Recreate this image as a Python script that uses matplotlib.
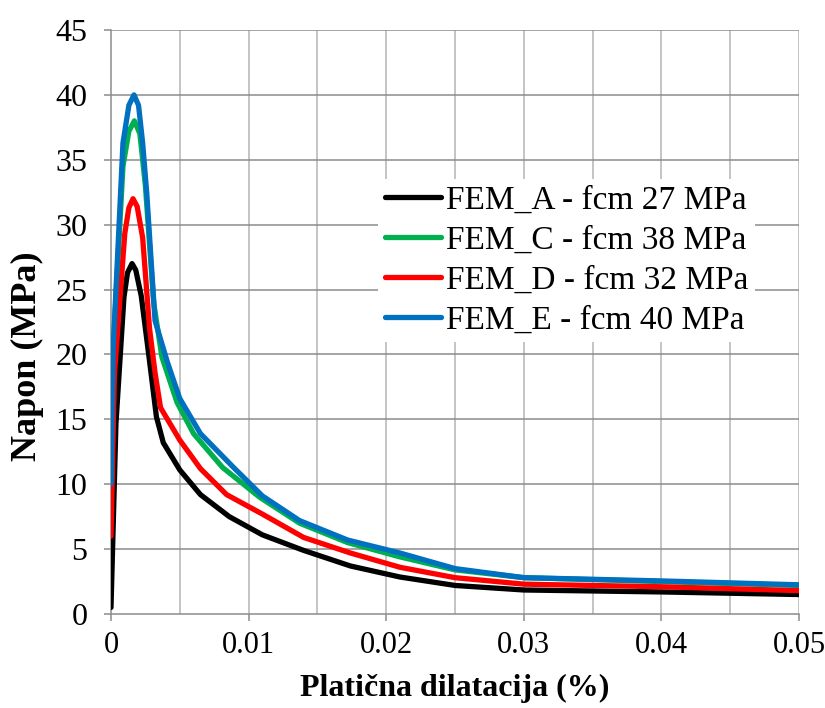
import matplotlib.pyplot as plt
import numpy as np

plt.rcParams['font.family'] = ['Liberation Serif', 'DejaVu Serif']

# plastic strain (%) and stress (MPa) for each model
x_a = [0, 0.00036, 0.00094, 0.0012, 0.00153, 0.0018, 0.0022, 0.0028, 0.0033, 0.0038, 0.0050, 0.0065,
       0.0086, 0.011, 0.014, 0.0174, 0.021, 0.025, 0.030, 0.040, 0.050]
y_a = [0.5, 14.7, 24.4, 26.3, 27.0, 26.5, 24.5, 19.5, 15.2, 13.2, 11.1, 9.2,
       7.5, 6.1, 4.9, 3.7, 2.85, 2.2, 1.85, 1.7, 1.5]

x_c = [0, 0.00015, 0.00087, 0.0013, 0.0017, 0.0021, 0.0025, 0.0031, 0.0037, 0.0048, 0.0060, 0.0081,
       0.0108, 0.0137, 0.0172, 0.021, 0.025, 0.030, 0.040, 0.050]
y_c = [9.5, 20.3, 34.5, 37.2, 38.0, 37.0, 33.0, 24.0, 19.8, 16.3, 13.9, 11.3,
       9.0, 7.0, 5.5, 4.4, 3.4, 2.8, 2.5, 2.2]

x_d = [0, 0.00025, 0.0010, 0.0013, 0.0016, 0.0019, 0.0023, 0.0028, 0.0032, 0.0036, 0.0050, 0.0065,
       0.0084, 0.011, 0.014, 0.0174, 0.021, 0.025, 0.030, 0.040, 0.050]
y_d = [6.0, 18.5, 29.3, 31.3, 32.0, 31.4, 29.0, 22.0, 18.6, 15.9, 13.4, 11.2,
       9.2, 7.7, 5.9, 4.7, 3.6, 2.8, 2.3, 2.1, 1.8]

x_e = [0, 0.00015, 0.00087, 0.0013, 0.00167, 0.0020, 0.0023, 0.0026, 0.0032, 0.0041, 0.0050, 0.0065,
       0.0089, 0.011, 0.0137, 0.0172, 0.021, 0.025, 0.030, 0.040, 0.050]
y_e = [10.0, 20.3, 36.3, 39.2, 40.0, 39.2, 36.3, 32.4, 22.6, 19.4, 16.6, 13.9,
       11.3, 9.1, 7.2, 5.7, 4.7, 3.5, 2.8, 2.55, 2.25]

labels = ['FEM_A - fcm 27 MPa', 'FEM_C - fcm 38 MPa', 'FEM_D - fcm 32 MPa', 'FEM_E - fcm 40 MPa']
colors = ['#000000', '#00B050', '#FF0000', '#0070C0']

fig = plt.figure(figsize=(8.25, 7.08), dpi=100)
ax = fig.add_axes([111/825, 1-614/708, 688/825, 584/708])

# grid: light verticals every 0.005, darker horizontals every 5
for gx in np.arange(0.005, 0.0501, 0.005):
    ax.axvline(gx, color='#B4B4B4', lw=1.1, zorder=0)
for gy in np.arange(5, 45.1, 5):
    ax.axhline(gy, color='#8C8C8C', lw=1.1, zorder=0)

for xs, ys, lab, c in zip([x_a, x_c, x_d, x_e], [y_a, y_c, y_d, y_e], labels, colors):
    ax.plot(xs, ys, color=c, lw=3.8, label=lab, solid_joinstyle='round', solid_capstyle='round', zorder=3)

ax.set_xlim(0, 0.05)
ax.set_ylim(0, 45)
ax.set_xticks([0, 0.01, 0.02, 0.03, 0.04, 0.05])
ax.set_xticklabels(['0', '0.01', '0.02', '0.03', '0.04', '0.05'])
ax.set_yticks(np.arange(0, 46, 5))
ax.tick_params(axis='both', color='#8C8C8C', length=5, width=1.1)
ax.tick_params(axis='x', labelsize=22, pad=7)
ax.tick_params(axis='y', labelsize=23, pad=12)

for s in ['top', 'right']:
    ax.spines[s].set_visible(False)
for s in ['left', 'bottom']:
    ax.spines[s].set_color('#8C8C8C')
    ax.spines[s].set_linewidth(1.1)

ax.set_xlabel('Platična dilatacija (%)', fontsize=23, fontweight='bold')
ax.xaxis.set_label_coords((455-111)/688, (614-674)/584)
ax.set_ylabel('Napon (MPa)', fontsize=26, fontweight='bold')
ax.yaxis.set_label_coords((44-111)/688, (614-356)/584)

leg = ax.legend(loc='upper left', bbox_to_anchor=(378/825, 1-179/708), bbox_transform=fig.transFigure,
                fontsize=24, frameon=True, fancybox=False, edgecolor='none', facecolor='white',
                framealpha=1, handlelength=1.7, handletextpad=0.15, labelspacing=0.28,
                borderpad=0.2, borderaxespad=0)
for line in leg.get_lines():
    line.set_linewidth(3.8)

fig.savefig('out.png', dpi=100)
